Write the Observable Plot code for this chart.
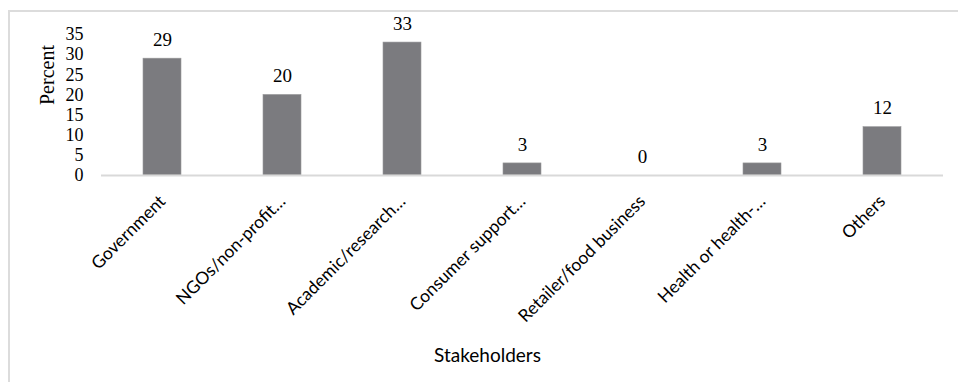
<!DOCTYPE html>
<html>
<head>
<meta charset="utf-8">
<script src="https://cdn.jsdelivr.net/npm/d3@7"></script>
<script src="https://cdn.jsdelivr.net/npm/@observablehq/plot@0.6"></script>
<style>
  html, body { margin: 0; padding: 0; background: #fff; }
  #wrap { position: relative; width: 958px; height: 382px; overflow: hidden; }
  #frame { position: absolute; left: 8px; top: 10px; width: 1000px; height: 400px;
           border-left: 2px solid #dcdcdc; border-top: 2px solid #dcdcdc; }
  #chart { position: absolute; left: 0; top: 0; }
</style>
</head>
<body>
<div id="wrap"><div id="frame"></div><div id="chart"></div></div>
<script>
const categories = ["Government", "NGOs/non-profit…", "Academic/research…", "Consumer support…", "Retailer/food business", "Health or health-…", "Others"];
const percents = [29, 20, 33, 3, 0, 3, 12];
const yTicks = [0, 5, 10, 15, 20, 25, 30, 35];
const yLabel = "Percent";
const xLabel = "Stakeholders";

const data = categories.map((c, i) => ({stakeholder: c, percent: percents[i]}));

const serif = "Liberation Serif, Times New Roman, serif";
const sans = "Lato, Open Sans, sans-serif";

const chart = Plot.plot({
  width: 958,
  height: 382,
  marginLeft: 101,
  marginRight: 15,
  marginTop: 34,
  marginBottom: 207,
  style: {background: "transparent", overflow: "visible", fontFamily: serif},
  x: {domain: categories, paddingInner: 0.685, paddingOuter: 0.3425, label: null},
  y: {domain: [0, 35], label: null},
  marks: [
    Plot.barY(data, {x: "stakeholder", y: "percent", fill: "#7b7b7f", stroke: "#9a9a9c", strokeWidth: 0.6}),
    Plot.ruleY([0], {stroke: "#d9d9d9", strokeWidth: 2}),
    Plot.text(data, {x: "stakeholder", y: "percent", text: d => String(d.percent), dy: -19,
      fontFamily: serif, fontSize: 19, fill: "#000"}),
    Plot.axisY({ticks: yTicks, tickSize: 0, tickPadding: 18, fontFamily: serif, fontSize: 18, label: null, fill: "#000"}),
    Plot.axisX({tickSize: 0, tickRotate: -45, tickPadding: 23, fontFamily: sans, fontSize: 17.5, label: null, fill: "#000", dx: 0}),
    Plot.text([yLabel], {frameAnchor: "left", rotate: -90, dx: -54, fontFamily: serif, fontSize: 20, fill: "#000"}),
    Plot.text([xLabel], {frameAnchor: "bottom", dx: -35, dy: 186, fontFamily: sans, fontSize: 19, fill: "#000"})
  ]
});
document.getElementById("chart").appendChild(chart);
</script>
</body>
</html>
